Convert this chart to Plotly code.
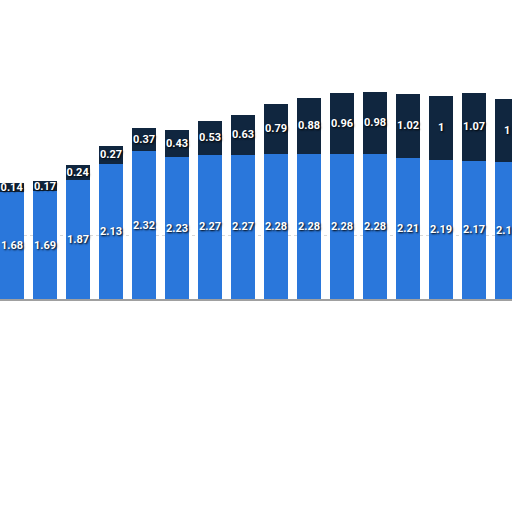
import plotly.graph_objects as go

categories = [str(i) for i in range(16)]
blue_values = [1.68, 1.69, 1.87, 2.13, 2.32, 2.23, 2.27, 2.27, 2.28, 2.28, 2.28, 2.28, 2.21, 2.19, 2.17, 2.15]
dark_values = [0.14, 0.17, 0.24, 0.27, 0.37, 0.43, 0.53, 0.63, 0.79, 0.88, 0.96, 0.98, 1.02, 1.0, 1.07, 1.0]

BLUE = "#2a77db"
DARK = "#10263f"

def fmt(v):
    s = f"{v:.2f}".rstrip("0").rstrip(".")
    return s

label_font = dict(color="white", size=11, family="Roboto, Arial, sans-serif",
                  weight="bold", shadow="1px 1px 2px #000000")

fig = go.Figure()
fig.add_trace(go.Bar(
    x=categories, y=blue_values, marker=dict(color=BLUE, line=dict(width=0)),
    text=[fmt(v) for v in blue_values], textposition="inside", textangle=0,
    insidetextanchor="middle", textfont=label_font, constraintext="none",
    hoverinfo="skip",
))
fig.add_trace(go.Bar(
    x=categories, y=dark_values, marker=dict(color=DARK, line=dict(width=0)),
    text=[fmt(v) for v in dark_values], textposition="inside", textangle=0,
    insidetextanchor="middle", textfont=label_font, constraintext="none",
    hoverinfo="skip",
))

fig.update_layout(
    barmode="stack",
    bargap=0.27,
    width=512, height=512,
    margin=dict(l=0, r=0, t=0, b=0),
    paper_bgcolor="white", plot_bgcolor="white",
    showlegend=False,
    uniformtext=dict(minsize=11, mode="show"),
    xaxis=dict(type="category", range=[-0.364, 15.15], showticklabels=False,
               showgrid=False, zeroline=False, showline=False, ticks=""),
    yaxis=dict(domain=[213/512, 1], range=[0, 4.70], showticklabels=False,
               tickvals=[1], showgrid=True, gridcolor="#d8d8d8", griddash="dot",
               gridwidth=1, zeroline=False, showline=False, ticks=""),
)
fig.add_shape(type="line", xref="paper", yref="paper", x0=0, x1=1,
              y0=1 - 300/512, y1=1 - 300/512,
              line=dict(color="#a0a0a0", width=2), layer="above")

fig.write_html("out.html", config={"displayModeBar": False},
               post_script="document.body.style.margin='0';document.body.style.overflow='hidden';")
